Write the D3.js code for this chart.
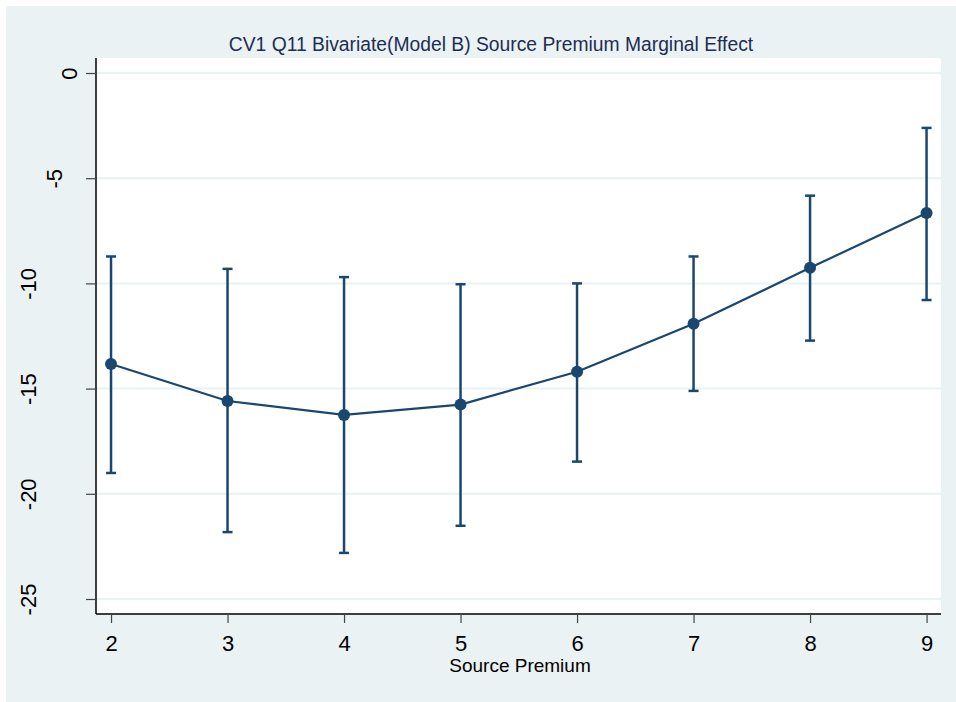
<!DOCTYPE html>
<html lang="en">
<head>
<meta charset="utf-8">
<script src="https://d3js.org/d3.v7.min.js"></script>
<style>
  body { margin: 0; background: #ffffff; }
  text { font-family: "Liberation Sans", Arial, sans-serif; }
</style>
</head>
<body>
<script>
var width = 956;
var height = 702;

// data
var premium = [2, 3, 4, 5, 6, 7, 8, 9];
var effect = [-13.83, -15.59, -16.25, -15.76, -14.20, -11.92, -9.26, -6.65];
var ciUpper = [-8.72, -9.31, -9.70, -10.04, -10.00, -8.72, -5.83, -2.61];
var ciLower = [-19.01, -21.82, -22.81, -21.52, -18.47, -15.11, -12.72, -10.79];

var yTicks = [0, -5, -10, -15, -20, -25];
var yTickLabels = ["0", "-5", "-10", "-15", "-20", "-25"];
var xTicks = [2, 3, 4, 5, 6, 7, 8, 9];

var titleText = "CV1 Q11 Bivariate(Model B) Source Premium Marginal Effect";
var xTitle = "Source Premium";

var navy = "#1a476f";

// plot region (window.top is reserved, so plot_* names)
var plot_l = 96, plot_r = 941, plot_t = 58, plot_b = 614;

var x = d3.scaleLinear().domain([1.871, 9.124]).range([plot_l, plot_r]);
var y = d3.scaleLinear().domain([0.713, -25.713]).range([plot_t, plot_b]);

var svg = d3.select("body")
            .append("svg")
            .attr("width", width)
            .attr("height", height);

// outer graph region
svg.append("rect")
   .attr("x", 6).attr("y", 6)
   .attr("width", width - 6).attr("height", height - 6)
   .attr("fill", "#eaf2f3");

// plot area
svg.append("rect")
   .attr("x", plot_l).attr("y", plot_t)
   .attr("width", plot_r - plot_l).attr("height", plot_b - plot_t)
   .attr("fill", "#ffffff");

// gridlines
svg.append("g")
   .selectAll("line")
   .data(yTicks)
   .enter().append("line")
   .attr("x1", plot_l).attr("x2", plot_r)
   .attr("y1", function (d) { return y(d); })
   .attr("y2", function (d) { return y(d); })
   .attr("stroke", "#eaf2f3")
   .attr("stroke-width", 2);

// y axis
var yAxis = svg.append("g")
   .attr("transform", "translate(" + plot_l + ",0)")
   .call(d3.axisLeft(y).tickValues(yTicks).tickSize(10).tickPadding(0)
          .tickFormat(function (d, i) { return yTickLabels[i]; }));
yAxis.select(".domain").attr("stroke", "#000").attr("stroke-width", 1.5)
     .attr("d", "M0," + plot_t + "V" + plot_b);
yAxis.selectAll(".tick line").attr("stroke", "#444").attr("stroke-width", 1.2);
yAxis.selectAll(".tick text")
     .attr("font-size", 22)
     .attr("fill", "#000")
     .attr("text-anchor", "middle")
     .attr("dy", null)
     .each(function () {
         var t = d3.select(this);
         var len = this.getComputedTextLength();
         // stata shifts longer rotated labels further from the axis
         var bx = 102.6 - 2.1 * len - plot_l;
         t.attr("x", 0).attr("y", 0)
          .attr("transform", "translate(" + bx + ",0) rotate(-90)");
     });

// x axis
var xAxis = svg.append("g")
   .attr("transform", "translate(0," + plot_b + ")")
   .call(d3.axisBottom(x).tickValues(xTicks).tickSize(9).tickPadding(4)
          .tickFormat(d3.format("d")));
xAxis.select(".domain").attr("stroke", "#000").attr("stroke-width", 1.5)
     .attr("d", "M" + plot_l + ",0H" + plot_r);
xAxis.selectAll(".tick line").attr("stroke", "#444").attr("stroke-width", 1.2);
xAxis.selectAll(".tick text")
     .attr("font-size", 22)
     .attr("fill", "#000")
     .attr("dy", null)
     .attr("y", 37);

// error bars
var bars = svg.append("g");
premium.forEach(function (p, i) {
    bars.append("line")
        .attr("x1", x(p)).attr("x2", x(p))
        .attr("y1", y(ciUpper[i])).attr("y2", y(ciLower[i]))
        .attr("stroke", navy).attr("stroke-width", 2.5);
    [ciUpper[i], ciLower[i]].forEach(function (v) {
        bars.append("line")
            .attr("x1", x(p) - 5).attr("x2", x(p) + 5)
            .attr("y1", y(v)).attr("y2", y(v))
            .attr("stroke", navy).attr("stroke-width", 2.5);
    });
});

// connected line
var line = d3.line()
    .x(function (d, i) { return x(premium[i]); })
    .y(function (d) { return y(d); });

svg.append("path")
   .datum(effect)
   .attr("d", line)
   .attr("fill", "none")
   .attr("stroke", navy)
   .attr("stroke-width", 2.2);

svg.append("g")
   .selectAll("circle")
   .data(effect)
   .enter().append("circle")
   .attr("cx", function (d, i) { return x(premium[i]); })
   .attr("cy", function (d) { return y(d); })
   .attr("r", 6)
   .attr("fill", navy);

// titles
svg.append("text")
   .attr("x", 491).attr("y", 51)
   .attr("text-anchor", "middle")
   .attr("font-size", 19.3)
   .attr("fill", "#1e2d53")
   .text(titleText);

svg.append("text")
   .attr("x", 520).attr("y", 672)
   .attr("text-anchor", "middle")
   .attr("font-size", 19)
   .attr("fill", "#000")
   .text(xTitle);
</script>
</body>
</html>
